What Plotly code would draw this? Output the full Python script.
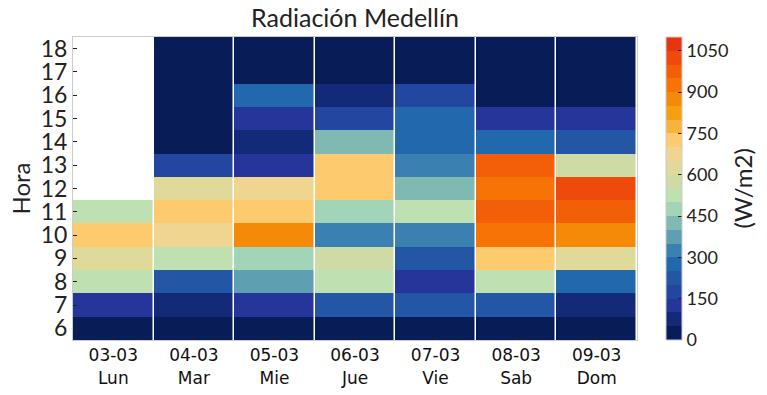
import plotly.graph_objects as go

dates = ["03-03", "04-03", "05-03", "06-03", "07-03", "08-03", "09-03"]
days = ["Lun", "Mar", "Mie", "Jue", "Vie", "Sab", "Dom"]
hours = [6, 7, 8, 9, 10, 11, 12, 13, 14, 15, 16, 17, 18]

# Radiation (W/m2) per day, for hours 6..18
lun = [25, 125, 525, 625, 725, 525, None, None, None, None, None, None, None]
mar = [25, 75, 225, 525, 675, 725, 625, 175, 25, 25, 25, 25, 25]
mie = [25, 125, 375, 475, 875, 725, 675, 125, 75, 125, 275, 25, 25]
jue = [25, 225, 525, 575, 325, 475, 725, 725, 425, 175, 75, 25, 25]
vie = [25, 225, 125, 225, 325, 525, 425, 325, 275, 275, 175, 25, 25]
sab = [25, 225, 525, 725, 925, 975, 925, 975, 275, 125, 25, 25, 25]
dom = [25, 75, 275, 625, 875, 975, 1025, 575, 225, 125, 25, 25, 25]

series = [lun, mar, mie, jue, vie, sab, dom]

cbar_ticks = [0, 150, 300, 450, 600, 750, 900, 1050]

band_colors = [
    "#081d58", "#132a78", "#25359a", "#2346a0", "#2357a6", "#2168ac",
    "#3a80b0", "#5e9fb2", "#80b8b2", "#a2d4b8", "#bfe0b0", "#cfdba5",
    "#dfd99a", "#f0d590", "#fdca6e", "#f8b33e", "#f5a00e", "#f58a08",
    "#f77305", "#f25f08", "#ee4a0b", "#e83510",
]
zmin, zmax = 0, 1100

n = len(band_colors)
colorscale = []
for i, c in enumerate(band_colors):
    colorscale.append([i / n, c])
    colorscale.append([(i + 1) / n, c])

xlabels = [f"{d}<br>{w}" for d, w in zip(dates, days)]
z = [[series[j][i] for j in range(len(series))] for i in range(len(hours))]

fig = go.Figure(
    go.Heatmap(
        x=xlabels,
        y=hours,
        z=z,
        zmin=zmin,
        zmax=zmax,
        colorscale=colorscale,
        xgap=1.5,
        hoverongaps=False,
        colorbar=dict(
            x=(666 - 73) / 564,
            xanchor="left",
            xpad=0,
            y=0.5,
            yanchor="middle",
            ypad=0,
            len=1,
            lenmode="fraction",
            thickness=16,
            outlinecolor="#cccccc",
            outlinewidth=1,
            tickvals=cbar_ticks,
            ticks="inside",
            ticklen=4,
            tickcolor="#222222",
            tickfont=dict(family="Lato", size=18, color="#222222"),
        ),
    )
)

fig.add_annotation(
    text="(W/m2)",
    xref="paper", yref="paper",
    x=(742 - 73) / 564, y=0.5,
    xanchor="center", yanchor="middle",
    textangle=-90,
    showarrow=False,
    font=dict(family="Lato", size=24, color="#222222"),
)

fig.update_layout(
    width=767,
    height=395,
    margin=dict(l=73, r=130, t=37, b=55, autoexpand=False),
    paper_bgcolor="white",
    plot_bgcolor="white",
    title=dict(text="Radiación Medellín", x=(73 + 637) / 2 / 767, xanchor="center",
               y=0.975, yanchor="top",
               font=dict(family="Lato", size=25, color="#222222")),
)
fig.update_xaxes(
    automargin=False,
    showgrid=False,
    ticks="inside",
    ticklen=4,
    tickcolor="#222222",
    tickfont=dict(family="DejaVu Sans", size=17, color="#111111"),
    showline=True,
    linecolor="#cccccc",
    linewidth=1,
    mirror=True,
)
fig.update_yaxes(
    automargin=False,
    range=[5.5, 18.5],
    tickvals=hours,
    showgrid=False,
    ticks="inside",
    ticklen=4,
    tickcolor="#222222",
    tickfont=dict(family="Lato", size=23, color="#222222"),
    title=dict(text="Hora", font=dict(family="Lato", size=24, color="#222222"), standoff=3),
    showline=True,
    linecolor="#cccccc",
    linewidth=1,
    mirror=True,
    zeroline=False,
)

fig.write_html(
    "out.html",
    config={"displayModeBar": False},
    post_script="document.body.style.margin='0px';document.body.style.overflow='hidden';",
)
